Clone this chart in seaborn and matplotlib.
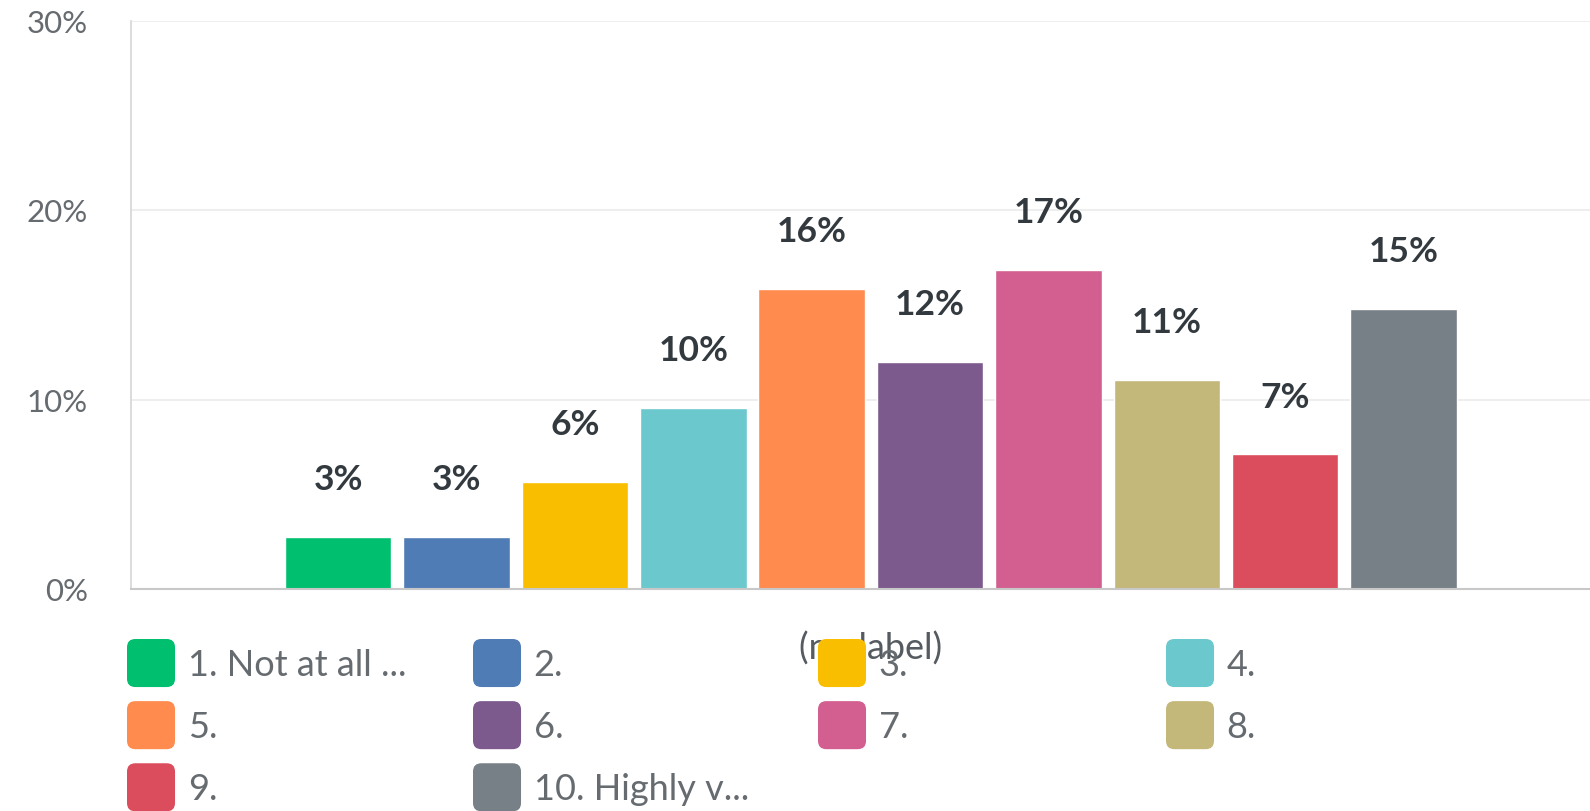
import matplotlib
matplotlib.use("Agg")
import matplotlib.pyplot as plt
import seaborn as sns
import pandas as pd
from matplotlib.patches import Patch, FancyBboxPatch
from matplotlib.legend_handler import HandlerPatch

# ---- data ----
categories = ["1. Not at all ...", "2.", "3.", "4.", "5.", "6.", "7.", "8.", "9.", "10. Highly v..."]
values = [2.75, 2.75, 5.65, 9.55, 15.85, 12.0, 16.85, 11.05, 7.1, 14.8]
colors = ["#00bf6f", "#507cb6", "#f9be00", "#6bc8cd", "#ff8b4f",
          "#7d5a8e", "#d25f90", "#c4b77a", "#db4d5c", "#768086"]
group_label = "(no label)"
y_ticks = [0, 10, 20, 30]
y_tick_labels = ["0%", "10%", "20%", "30%"]

sns.set_style("white")
plt.rcParams['font.family'] = ['Lato', 'DejaVu Sans']

W, H = 1590, 812
fig = plt.figure(figsize=(W / 100, H / 100), dpi=100)
ax = fig.add_axes([131 / W, 1 - 590 / H, 1 - 131 / W, (590 - 21.5) / H])

df = pd.DataFrame({"group": [group_label] * len(categories),
                   "category": categories, "value": values})
sns.barplot(data=df, x="group", y="value", hue="category", hue_order=categories,
            palette=colors, width=0.8, gap=0.1, saturation=1, legend=False, ax=ax)

for cont in ax.containers:
    ax.bar_label(cont, labels=[f"{b.get_height():.0f}%" for b in cont],
                 padding=30, fontsize=25.5, fontweight='bold', color='#333a3f')

ax.set_xlim(-0.5, 0.486)
ax.set_ylim(0, 30)
ax.set_yticks(y_ticks, y_tick_labels)
ax.set_xlabel("")
ax.set_ylabel("")
ax.tick_params(axis='y', length=0, pad=31, labelsize=22.5, labelcolor='#666b70')
ax.tick_params(axis='x', length=0, pad=30, labelsize=26, labelcolor='#555b60')
ax.grid(axis='y', color='#ebebeb', lw=1.2)
ax.grid(axis='x', visible=False)
ax.set_axisbelow(True)
for s in ['top', 'right']:
    ax.spines[s].set_visible(False)
ax.spines['left'].set_color('#d6d6d6')
ax.spines['left'].set_linewidth(1.2)
ax.spines['bottom'].set_color('#c8c8c8')
ax.spines['bottom'].set_linewidth(1.5)


def make_swatch(legend, orig_handle, xdescent, ydescent, width, height, fontsize):
    return FancyBboxPatch((-xdescent, -ydescent), width, height,
                          boxstyle="round,pad=0,rounding_size=6")


handles = [Patch(facecolor=c, edgecolor='none') for c in colors]
col_x = [127, 473, 818, 1166]
n_cols = 4
for ci in range(n_cols):
    idx = list(range(ci, len(categories), n_cols))
    fig.legend([handles[i] for i in idx], [categories[i] for i in idx],
               loc='upper left', bbox_to_anchor=(col_x[ci] / W, 1 - 640 / H),
               bbox_transform=fig.transFigure, frameon=False, borderpad=0,
               borderaxespad=0, fontsize=26, labelcolor='#666b70',
               handlelength=1.33, handleheight=1.67, handletextpad=0.35,
               labelspacing=0.39,
               handler_map={Patch: HandlerPatch(patch_func=make_swatch)})

fig.savefig("out.png", dpi=100)
